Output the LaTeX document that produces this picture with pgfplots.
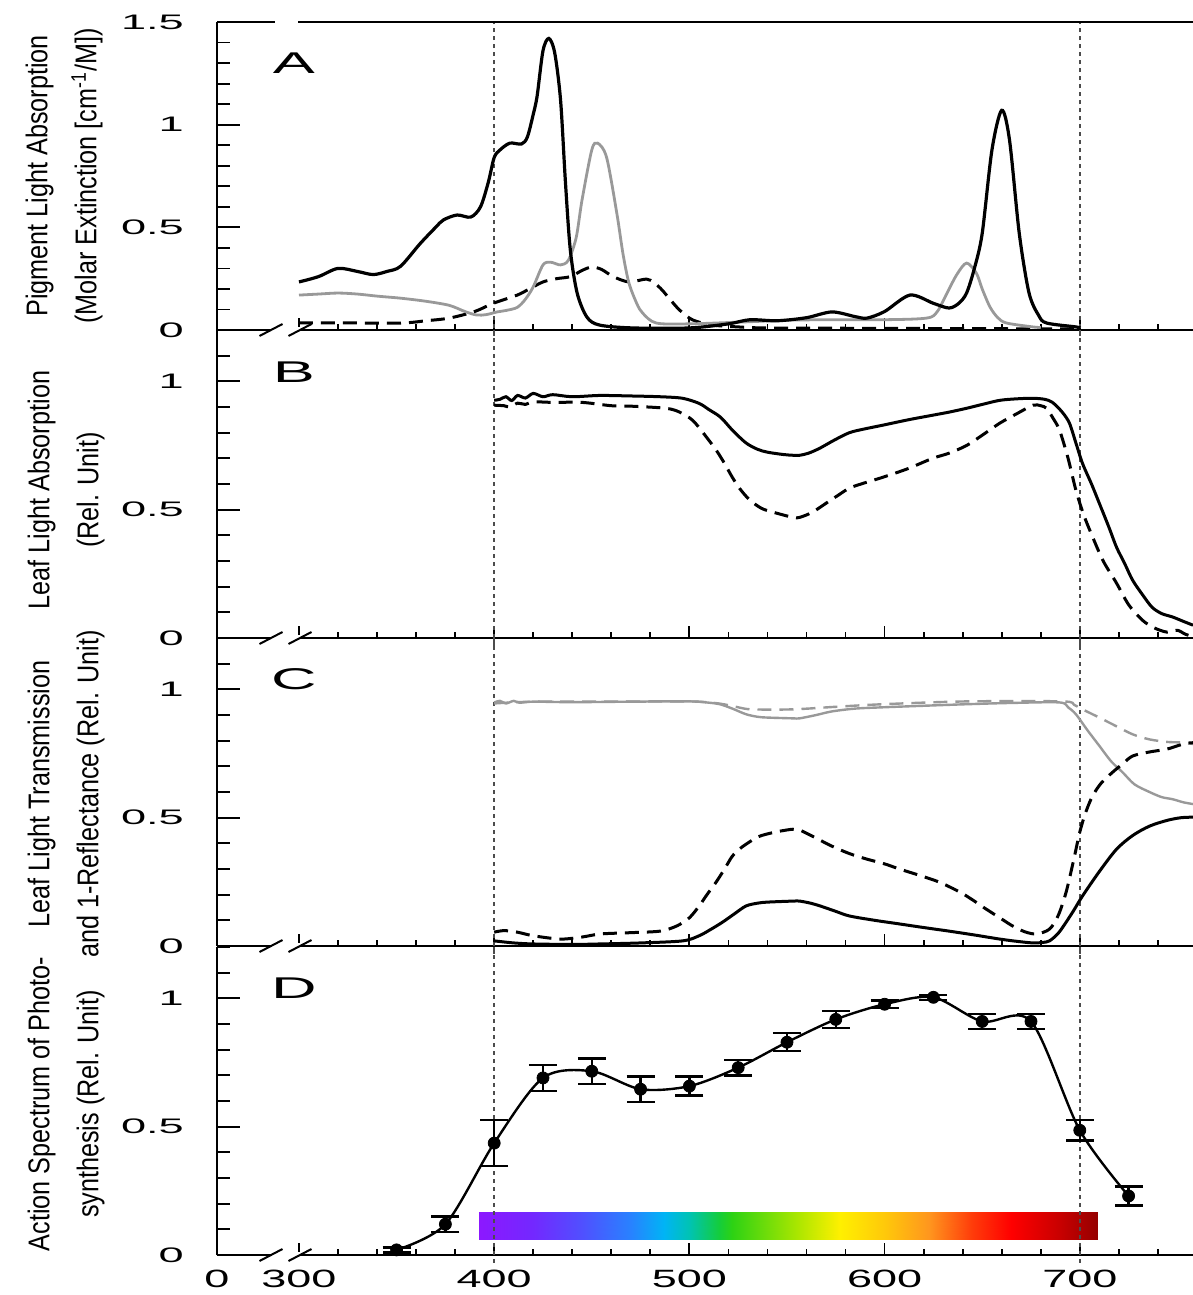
\documentclass[border=0pt]{standalone}
\usepackage{fontspec}
\setmainfont{Liberation Sans}
\newfontfamily\labfont[FakeStretch=0.84]{Liberation Sans}
\usepackage{pgfplots}
\pgfplotsset{compat=1.18}

\definecolor{lgray}{gray}{0.6}
\tikzset{letter/.style={font=\fontsize{15}{15}\selectfont, xscale=2.1}}
\pgfplotsset{
  base/.style={scale only axis, width=488pt, height=154pt,
    xmin=258, xmax=758, ymin=0, clip=false,
    axis line style={-, line width=1.4pt},
    tick align=inside, tick style={black, line width=0.9pt}},
  xpanel/.style={base, axis x line*=bottom, axis y line=none,
    xtick={258,300,400,500,600,700}, minor xtick={320,340,...,740},
    major tick length=6pt, minor tick length=2.8pt,
    xticklabels={,,,,,}, ytick=\empty,
    xticklabel style={anchor=north, yshift=-4pt, font=\fontsize{12.5}{14}\selectfont, xscale=1.8}},
  ypanel/.style={base, axis x line=none, axis y line*=left, xtick=\empty,
    major tick length=11.5pt, minor tick length=6.5pt,
    yticklabel style={anchor=east, xshift=-9pt, font=\fontsize{10.5}{12}\selectfont, xscale=2.15}},
  dotv/.style={black!70, line width=1.2pt, dash pattern=on 2pt off 2pt},
  blk/.style={black, line width=1.6pt, smooth},
  gry/.style={lgray, line width=1.4pt, smooth},
  dsh/.style={black, line width=1.5pt, dash pattern=on 7pt off 4pt, smooth},
  gdsh/.style={lgray, line width=1.2pt, dash pattern=on 7pt off 4pt, smooth},
  colormap={spectrum}{
    rgb255(0pt)=(140,24,255) rgb255(28pt)=(115,40,255) rgb255(53pt)=(80,80,255)
    rgb255(78pt)=(40,130,255) rgb255(95pt)=(0,180,245) rgb255(108pt)=(0,195,180)
    rgb255(123pt)=(20,205,60) rgb255(130pt)=(45,210,20) rgb255(163pt)=(170,230,0)
    rgb255(185pt)=(255,240,0) rgb255(208pt)=(255,200,10) rgb255(231pt)=(255,150,30)
    rgb255(253pt)=(255,60,10) rgb255(273pt)=(255,0,0) rgb255(298pt)=(200,0,0)
    rgb255(317pt)=(150,0,0)},
}

\begin{document}
\begin{tikzpicture}
\useasboundingbox (0,0) rectangle (596.5pt,-647.5pt);

% ---------------- A: pigments
\begin{axis}[xpanel, at={(108.5pt,-165pt)}, anchor=south west, ymax=1.5]
\addplot[dotv] coordinates {(400,-0.03)(400,1.5)};
\addplot[dotv] coordinates {(700,-0.03)(700,1.5)};
\addplot[dsh] table {
x y
300 0.035
320 0.035
352 0.034
365 0.045
377 0.058
390 0.09
399.5 0.13
411.8 0.17
418 0.2
425 0.234
432 0.25
439 0.26
445 0.29
450 0.307
455 0.295
461 0.26
469 0.234
478 0.248
482 0.23
486 0.195
490 0.15
495 0.097
501.7 0.049
512 0.024
525 0.015
540 0.01
600 0.008
700 0.005
};
\addplot[gry] table {
x y
300 0.17
310 0.175
320 0.18
330 0.175
340 0.165
352 0.155
365 0.14
377 0.12
385 0.09
391 0.073
396 0.075
401.5 0.088
406 0.095
411.8 0.11
416 0.15
420 0.21
425 0.317
429 0.33
434 0.317
438 0.34
442 0.45
445 0.633
450 0.877
453 0.91
457.6 0.84
462.8 0.57
466 0.37
469 0.23
473 0.13
476 0.083
483 0.034
500 0.03
530 0.04
556 0.049
599 0.05
621.5 0.058
627 0.09
632 0.18
637 0.27
642 0.326
647 0.277
650 0.2
654 0.112
658 0.06
662.5 0.034
676 0.015
680 0.012
};
\addplot[blk] table {
x y
300 0.234
310 0.26
320 0.30
330 0.285
338 0.27
345 0.285
352 0.31
362 0.42
370 0.50
374 0.536
381 0.56
388 0.55
393 0.60
397 0.72
400 0.84
403 0.877
408 0.91
414 0.906
417 0.94
420 1.05
422 1.14
425 1.36
428 1.42
431 1.35
434 1.12
436.5 0.72
439 0.39
442.5 0.18
447.5 0.063
454 0.024
471 0.01
500 0.01
520 0.03
531 0.05
545 0.045
560 0.06
573 0.088
585 0.065
591 0.058
600 0.09
613 0.17
625 0.13
633 0.107
638 0.13
642 0.18
646 0.30
650 0.47
655 0.877
660 1.07
664 0.925
669 0.47
674 0.18
679 0.07
683 0.034
698 0.015
700 0.01
};
\node[letter] at (axis cs:297.4,1.30) {A};
\end{axis}
\begin{axis}[ypanel, at={(108.5pt,-165pt)}, anchor=south west, ymax=1.5,
  ytick={0,0.5,1,1.5}, yticklabels={0,0.5,1,1.5}, minor ytick={0.1,0.2,...,1.45}]
\end{axis}

% ---------------- B: leaf absorption
\begin{axis}[xpanel, at={(108.5pt,-319pt)}, anchor=south west, ymax=1.2]
\addplot[dotv] coordinates {(400,-0.03)(400,1.2)};
\addplot[dotv] coordinates {(700,-0.03)(700,1.2)};
\addplot[dsh] table {
x y
400 0.907
405 0.905
408 0.9
412 0.915
416 0.91
420 0.92
430 0.918
445 0.918
460 0.905
470.8 0.903
488 0.895
495 0.88
501.7 0.848
508 0.79
513.9 0.73
518 0.68
522 0.626
526 0.58
531 0.537
537 0.505
543 0.49
553 0.47
556.5 0.47
563 0.49
570 0.525
576 0.555
582 0.584
590 0.605
599 0.626
612 0.66
624.6 0.70
633 0.72
642 0.75
650 0.79
659 0.837
668 0.875
676 0.907
680 0.905
683 0.895
686 0.86
689.6 0.81
694 0.70
698 0.576
702 0.48
706.6 0.393
712 0.30
718.8 0.214
725 0.13
732 0.07
738 0.04
744.6 0.023
750 0.03
754 0.015
758 0.005
};
\addplot[blk, line width=1.5pt] table {
x y
400 0.926
403 0.93
406 0.94
409 0.925
412 0.945
416 0.935
420 0.953
425 0.94
430 0.948
440 0.94
454 0.945
470 0.943
485 0.94
496.5 0.934
505 0.914
510 0.89
516 0.86
522 0.81
529 0.76
535 0.735
540 0.724
548 0.715
553 0.712
556.5 0.712
561 0.72
566.7 0.739
574 0.77
582 0.80
590 0.815
599 0.829
612 0.85
624.6 0.868
633 0.88
642 0.895
650 0.91
659 0.926
668 0.932
676 0.934
682 0.93
686 0.918
691 0.88
694.7 0.837
698 0.76
701.4 0.68
706 0.6
710 0.525
715 0.43
718.8 0.354
723 0.29
727 0.226
732 0.17
737 0.12
742 0.095
747.5 0.082
753 0.065
758 0.05
};
\node[letter] at (axis cs:297.4,1.035) {B};
\end{axis}
\begin{axis}[ypanel, at={(108.5pt,-319pt)}, anchor=south west, ymax=1.2,
  ytick={0,0.5,1}, yticklabels={0,0.5,1}, minor ytick={0.1,0.2,...,1.15}]
\end{axis}

% ---------------- C: transmission and 1-reflectance
\begin{axis}[xpanel, at={(108.5pt,-473pt)}, anchor=south west, ymax=1.2]
\addplot[dotv] coordinates {(400,-0.03)(400,1.2)};
\addplot[dotv] coordinates {(700,-0.03)(700,1.2)};
\addplot[gdsh] table {
x y
400 0.945
420 0.952
460 0.952
500 0.953
515 0.945
525 0.93
532 0.922
553 0.922
575 0.932
599 0.942
642 0.953
691 0.953
697 0.94
701.4 0.922
710 0.89
718.8 0.856
727 0.825
735.7 0.805
745 0.795
752 0.793
758 0.787
};
\addplot[gry, line width=1.2pt] table {
x y
400 0.949
403 0.955
406 0.945
410 0.955
413 0.948
420 0.952
440 0.95
470 0.952
500 0.953
510 0.948
515.6 0.942
522 0.925
529 0.903
535 0.893
540 0.89
553 0.887
556.5 0.887
565 0.9
573 0.914
585 0.925
599 0.93
620 0.936
642 0.942
665 0.947
689.6 0.949
694 0.93
698 0.903
704 0.84
710 0.78
716 0.72
721.9 0.677
728 0.63
735.7 0.6
742 0.58
747.5 0.572
753 0.56
758 0.553
};
\addplot[dsh] table {
x y
400 0.054
405 0.06
411.8 0.054
420 0.04
434 0.027
445 0.035
454.5 0.047
470 0.052
485 0.058
493.5 0.078
500 0.11
505 0.156
509 0.2
513.7 0.249
518 0.3
522 0.35
526 0.38
530.7 0.405
535 0.425
539.6 0.436
546 0.447
553 0.455
556.5 0.452
565 0.42
573 0.389
582 0.36
590.7 0.339
600 0.32
607.6 0.30
618 0.275
628 0.249
638.6 0.21
645 0.18
652 0.144
659 0.11
665.6 0.078
672 0.055
677.9 0.047
684.5 0.066
689 0.12
693 0.21
697 0.34
700 0.444
703 0.52
706.5 0.584
711 0.635
716.8 0.677
722 0.71
727 0.74
735 0.755
744.5 0.767
750 0.78
754.7 0.79
758 0.792
};
\addplot[blk, line width=1.5pt] table {
x y
400 0.02
410 0.012
420 0.008
440 0.006
454 0.008
475 0.012
496.6 0.02
505 0.04
511 0.065
517 0.093
523 0.125
529 0.156
535 0.167
540 0.171
553 0.175
556.5 0.175
562 0.167
567 0.156
575 0.135
582 0.117
595 0.1
607.6 0.086
620 0.072
633 0.058
646 0.043
659 0.027
668 0.018
676 0.012
681 0.014
684.5 0.02
689 0.05
693 0.093
697 0.14
701.4 0.195
710 0.29
718.8 0.377
727 0.43
735.7 0.467
745 0.49
752 0.5
758 0.502
};
\node[letter] at (axis cs:297.4,1.04) {C};
\end{axis}
\begin{axis}[ypanel, at={(108.5pt,-473pt)}, anchor=south west, ymax=1.2,
  ytick={0,0.5,1}, yticklabels={0,0.5,1}, minor ytick={0.1,0.2,...,1.15}]
\end{axis}

% ---------------- D: action spectrum
\begin{axis}[xpanel, at={(108.5pt,-627.5pt)}, anchor=south west, ymax=1.2,
  xticklabels={0,300,400,500,600,700}]
\addplot[surf, shader=interp, colormap name=spectrum, point meta=x,
  point meta min=392, point meta max=709, mesh/cols=16] table {
x y
392 0.062
420 0.062
445 0.062
470 0.062
487 0.062
500 0.062
515 0.062
522 0.062
555 0.062
577 0.062
600 0.062
623 0.062
645 0.062
665 0.062
690 0.062
709 0.062
392 0.167
420 0.167
445 0.167
470 0.167
487 0.167
500 0.167
515 0.167
522 0.167
555 0.167
577 0.167
600 0.167
623 0.167
645 0.167
665 0.167
690 0.167
709 0.167
};
\addplot[dotv] coordinates {(400,-0.03)(400,1.2)};
\addplot[dotv] coordinates {(700,-0.03)(700,1.2)};
\addplot[black, line width=1.2pt, smooth] table {
x y
350 0.02
375 0.12
400 0.436
425 0.69
450 0.716
475 0.646
500 0.658
525 0.73
550 0.829
575 0.918
600 0.977
625 1.004
650 0.91
675 0.91
700 0.486
725 0.23
};
\addplot[black, only marks, mark=*, mark size=3pt,
  error bars/.cd, y dir=both, y explicit,
  error bar style={line width=1.2pt},
  error mark options={rotate=90, mark size=7pt, line width=1.2pt}]
  table[y error=e] {
x y e
350 0.02 0.01
375 0.12 0.03
400 0.436 0.09
425 0.69 0.05
450 0.716 0.05
475 0.646 0.05
500 0.658 0.037
525 0.73 0.03
550 0.829 0.035
575 0.918 0.033
600 0.977 0.015
625 1.004 0.01
650 0.91 0.03
675 0.91 0.03
700 0.486 0.04
725 0.23 0.037
};
\node[letter] at (axis cs:297.4,1.04) {D};
\end{axis}
\begin{axis}[ypanel, at={(108.5pt,-627.5pt)}, anchor=south west, ymax=1.2,
  ytick={0,0.5,1}, yticklabels={0,0.5,1}, minor ytick={0.1,0.2,...,1.15}]
\end{axis}

% top frame line of A with its gap
\draw[line width=1.4pt] (108.5pt,-11pt) -- (137.5pt,-11pt);
\draw[line width=1.4pt] (149pt,-11pt) -- (596.5pt,-11pt);
% axis breaks
\foreach \yb in {-165,-319,-473,-627.5}{
  \fill[white] (135.5pt,\yb pt-1.3pt) rectangle (150pt,\yb pt+1.3pt);
  \draw[line width=1pt] (129.75pt,\yb pt-3pt) -- (141.25pt,\yb pt+3pt);
  \draw[line width=1pt] (144.25pt,\yb pt-3pt) -- (155.75pt,\yb pt+3pt);
}

% y labels
\begin{scope}[font=\labfont\fontsize{15}{24.5}\selectfont]
\node[rotate=90, align=center] at (32pt,-88pt) {Pigment Light Absorption\\(Molar Extinction [cm\textsuperscript{-1}/M])};
\node[rotate=90, align=center] at (33pt,-245pt) {Leaf Light Absorption\\(Rel. Unit)};
\node[rotate=90, align=center] at (33pt,-397pt) {Leaf Light Transmission\\and 1-Reflectance (Rel. Unit)};
\node[rotate=90, align=center] at (33pt,-552pt) {Action Spectrum of Photo-\\synthesis (Rel. Unit)};
\end{scope}
\end{tikzpicture}
\end{document}
